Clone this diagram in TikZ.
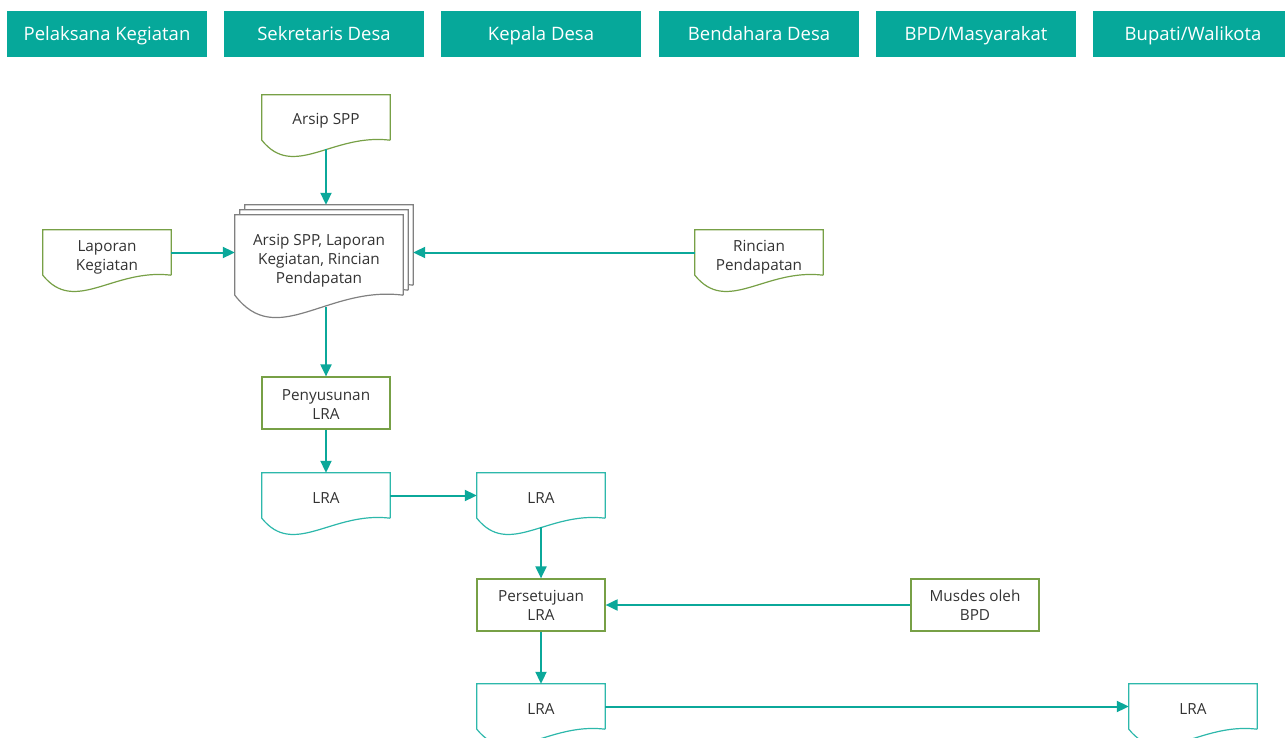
\documentclass[tikz,border=0pt]{standalone}
\usepackage{fontspec}
\setmainfont{Open Sans}
\usetikzlibrary{arrows.meta,calc}
\definecolor{hdr}{HTML}{06A89A}
\definecolor{arr}{HTML}{0BA89A}
\definecolor{grn}{HTML}{77A046}
\definecolor{tealb}{HTML}{2DB8AB}
\definecolor{grayb}{HTML}{808080}
\definecolor{txt}{HTML}{333333}
\tikzset{
  hdrbox/.style={fill=hdr,draw=none,minimum width=200pt,minimum height=46pt,inner sep=0pt,text=white,text height=13.5pt,text depth=0pt,font=\fontsize{18.5}{22}\selectfont},
  docnode/.style={draw=none,inner sep=0pt,minimum width=128pt,minimum height=45pt,align=center,text=txt,font=\fontsize{15.3}{19}\selectfont},
  doctext/.style={draw=none,inner sep=0pt,align=center,text=txt,font=\fontsize{15.3}{19}\selectfont},
  procbox/.style={draw=grn,line width=1.2pt,inner sep=0pt,minimum width=128pt,minimum height=52pt,align=center,text=txt,font=\fontsize{15.3}{19}\selectfont},
  conn/.style={draw=arr,line width=2pt,-{Triangle[length=12pt,width=11pt]}},
}
\newcommand\docoutline[4]{% node, color, width, depth
  \filldraw[draw=#2,fill=white,line width=1.2pt] (#1.south east) -- (#1.north east) -- (#1.north west) -- (#1.south west)
    .. controls ($(#1.south west)+(0.25*#3,2.5*#4)$) and ($(#1.south west)+(0.55*#3,-0.45*#4)$) .. (#1.south east);}
\begin{document}
\begin{tikzpicture}[x=1pt,y=-1pt]
\useasboundingbox (0,0) rectangle (1285,738);
% headers
\node[hdrbox] (h1) at (107,34) {Pelaksana Kegiatan};
\node[hdrbox] (h2) at (324,34) {Sekretaris Desa};
\node[hdrbox] (h3) at (541,34) {Kepala Desa};
\node[hdrbox] (h4) at (759,34) {Bendahara Desa};
\node[hdrbox] (h5) at (976,34) {BPD/Masyarakat};
\node[hdrbox] (h6) at (1193,34) {Bupati/Walikota};
% multi document
\node[docnode,minimum width=168pt,minimum height=80pt] (m3) at (329,245) {};
\docoutline{m3}{grayb}{168}{22}
\node[docnode,minimum width=168pt,minimum height=80pt] (m2) at (324,250) {};
\docoutline{m2}{grayb}{168}{22}
\node[docnode,minimum width=168pt,minimum height=80pt] (multi) at (319,255) {};
\docoutline{multi}{grayb}{168}{22}
\node[doctext] (multit) at ([yshift=-6pt]multi.center) {Arsip SPP, Laporan\\Kegiatan, Rincian\\Pendapatan};
% documents
\newcommand\doc[6]{% name, x, y, color, text, text shift
  \node[docnode] (#1) at (#2,#3) {};
  \docoutline{#1}{#4}{128}{16}
  \node[doctext] (#1-t) at ([yshift=-#6]#1.center) {#5};
  \coordinate (#1-b) at ([yshift=-9pt]#1.south);}
\doc{arsip}{326}{117.5}{grn}{Arsip SPP}{3.5pt}
\doc{lap}{107}{252.5}{grn}{Laporan\\Kegiatan}{5pt}
\doc{rin}{759}{252.5}{grn}{Rincian\\Pendapatan}{5pt}
\doc{lraa}{326}{495.5}{tealb}{LRA}{3pt}
\doc{lrab}{541}{495.5}{tealb}{LRA}{3pt}
\doc{lrac}{541}{706.5}{tealb}{LRA}{3pt}
\doc{lrad}{1193}{706.5}{tealb}{LRA}{3pt}
% process boxes
\node[procbox] (pen) at (326,403) {};
\node[doctext] at ([yshift=-2pt]pen.center) {Penyusunan\\LRA};
\node[procbox] (per) at (541,605) {};
\node[doctext] at ([yshift=-0.5pt]per.center) {Persetujuan\\LRA};
\node[procbox] (mus) at (975,605) {};
\node[doctext] at ([yshift=-0.5pt]mus.center) {Musdes oleh\\BPD};
\coordinate (multi-b) at ([yshift=-12pt]multi.south -| pen.north);
% connectors
\draw[conn] (arsip-b) -- (arsip-b |- m3.north);
\draw[conn] (lap.east) -- (lap.east -| multi.west);
\draw[conn] (rin.west) -- (rin.west -| m3.east);
\draw[conn] (multi-b) -- (pen.north);
\draw[conn] (pen.south) -- (lraa.north);
\draw[conn] (lraa.east) -- (lrab.west);
\draw[conn] (lrab-b) -- (per.north);
\draw[conn] (mus.west) -- (per.east);
\draw[conn] (per.south) -- (lrac.north);
\draw[conn] (lrac.east) -- (lrad.west);
\end{tikzpicture}
\end{document}
